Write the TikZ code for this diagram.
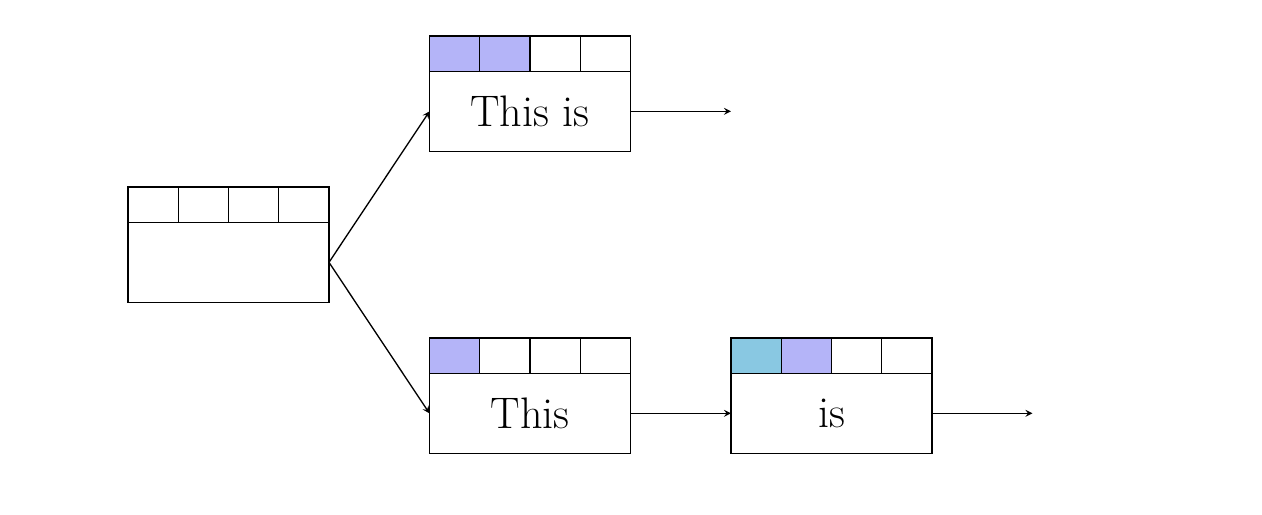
\documentclass[tikz,border=0pt]{standalone}
\usepackage[dvipsnames]{xcolor}
\usepackage{tikz}
\usetikzlibrary{positioning,arrows}

\definecolor{tokpurple}{RGB}{180,180,248}
\definecolor{tokcyan}{RGB}{137,200,226}

\tikzset{
  cell/.style={draw, line width=0.7pt, minimum width=1cm, minimum height=0.7cm, inner sep=0pt, outer sep=0pt},
  body/.style={draw, line width=0.7pt, minimum width=4cm, minimum height=1.6cm, inner sep=0pt, outer sep=0pt,
    font=\fontsize{25}{30}\selectfont},
  link/.style={->, >=stealth, line width=0.75pt}
}

% body node plus four cells on top of it
\newcommand{\tokenbox}[7]{%
  \node[body, anchor=north west] (#1) at (#2) {#3};
  \node[cell, fill=#4, anchor=south west] (#1-1) at (#1.north west) {};
  \node[cell, fill=#5, right=0pt of #1-1] (#1-2) {};
  \node[cell, fill=#6, right=0pt of #1-2] (#1-3) {};
  \node[cell, fill=#7, right=0pt of #1-3] (#1-4) {};
}

\begin{document}
\begin{tikzpicture}
\useasboundingbox (0,0) rectangle (25.115,-10.229);

\tokenbox{root}{2.547,-4.421}{}{white}{white}{white}{white}
\tokenbox{both}{8.547,-1.416}{This is}{tokpurple}{tokpurple}{white}{white}
\tokenbox{this}{8.547,-7.426}{This}{tokpurple}{white}{white}{white}
\tokenbox{is}{14.547,-7.426}{is}{tokcyan}{tokpurple}{white}{white}

\coordinate (both-out) at ([xshift=2cm]both.east);
\coordinate (is-out) at ([xshift=2cm]is.east);

\draw[link] (root.east) -- (both.west);
\draw[link] (root.east) -- (this.west);
\draw[link] (both.east) -- (both-out);
\draw[link] (this.east) -- (is.west);
\draw[link] (is.east) -- (is-out);
\end{tikzpicture}
\end{document}
